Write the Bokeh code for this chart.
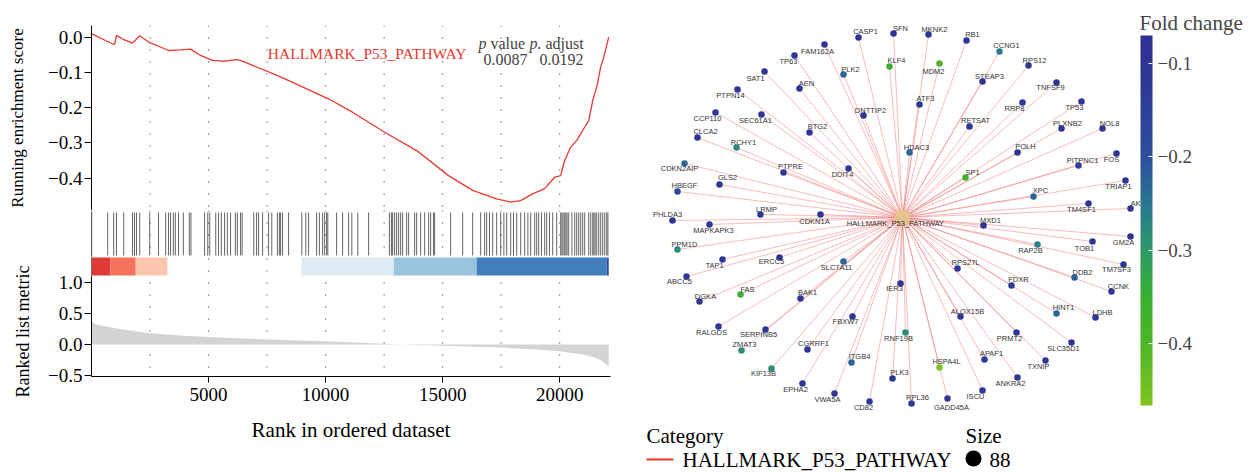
import numpy as np
from bokeh.plotting import figure
from bokeh.layouts import row, column
from bokeh.models import (Range1d, FixedTicker, CustomJSTickFormatter, LinearColorMapper,
                          ColorBar, ColumnDataSource, Span, Label, AllLabels, Title)
from bokeh.core.properties import value
from bokeh.embed import file_html
from bokeh.resources import INLINE

SERIF = "Liberation Serif"
SANS = "Liberation Sans"
RED = "#E8392F"

# ---------------- GSEA data ----------------
pathway = "HALLMARK_P53_PATHWAY"
p_value = "0.0087"
p_adjust = "0.0192"

es_rank = [0, 640, 984, 1070, 1410, 1750, 2060, 2440, 2950, 3290, 3800, 4230, 4660, 5170,
           5680, 6200, 6370, 6880, 8080, 9100, 10120, 11150, 12520, 13890, 15250, 16280,
           17300, 17900, 18330, 18840, 19360, 19790, 20040, 20210, 20470, 20730, 21070,
           21240, 21410, 21580, 21750, 21880, 22094]
es_score = [0.010, -0.011, -0.021, 0.005, -0.008, -0.017, 0.004, -0.014, -0.028, -0.038,
            -0.036, -0.034, -0.052, -0.066, -0.068, -0.064, -0.066, -0.080, -0.113, -0.144,
            -0.175, -0.213, -0.270, -0.322, -0.393, -0.435, -0.459, -0.468, -0.464, -0.445,
            -0.430, -0.397, -0.393, -0.350, -0.312, -0.293, -0.255, -0.237, -0.180, -0.142,
            -0.085, -0.057, 0.000]

hit_rank = [9, 692, 949, 1068, 1376, 1752, 1838, 1923, 2060, 2487, 2863, 3171, 3291, 3376,
            3496, 3581, 3718, 3923, 4179, 4248, 4829, 4966, 5051, 5308, 5427, 5547, 5684,
            5803, 5940, 6145, 6231, 6368, 6436, 6932, 7051, 7137, 7308, 7564, 7701, 7940,
            8026, 8077, 8162, 8419, 8983, 9154, 9274, 9615, 9735, 9872, 9957, 10043, 10094,
            10470, 10726, 10983, 11120, 11376, 11838, 12726, 12812, 12863, 12949, 13034,
            13120, 13205, 13291, 13462, 13547, 13803, 13889, 14060, 14231, 14402, 14487,
            14607, 14658, 15342, 15855, 16282, 16624, 16795, 16880, 17000, 17137, 17308,
            17479, 17615, 17735, 17906, 18026, 18162, 18333, 18504, 18641, 18761, 18932,
            19017, 19103, 19222, 19359, 19444, 19564, 19701, 19872, 20043, 20094, 20145,
            20214, 20265, 20316, 20384, 20521, 20641, 20726, 20812, 20897, 20983, 21068,
            21239, 21325, 21410, 21462, 21513, 21581, 21667, 21752, 21838, 21923, 22009,
            22060]

metric_rank = [0, 200, 1200, 2500, 3800, 5000, 7500, 10000, 12000, 12900, 13500, 15000,
               17500, 19000, 20000, 21000, 21500, 21800, 22094]
metric_value = [0.37, 0.32, 0.25, 0.18, 0.145, 0.12, 0.08, 0.05, 0.02, 0.003, -0.003,
                -0.02, -0.05, -0.08, -0.11, -0.16, -0.21, -0.26, -0.36]

band_start = [0, 812, 1889, 8966, 12915, 16453, 22009]
band_end = [812, 1889, 3239, 12915, 16453, 22009, 22094]
band_color = ["#DF3A36", "#F4735F", "#FCC6AF", "#DDEAF4", "#98C4DE", "#417EBA", "#2C4A9C"]

rank_ticks = [5000, 10000, 15000, 20000]
grid_ranks = [2500, 5000, 7500, 10000, 12500, 15000, 17500, 20000]
es_ticks = [0.0, -0.1, -0.2, -0.3, -0.4]
metric_ticks = [1.0, 0.5, 0.0, -0.5]

# ---------------- network data ----------------
genes = ["CASP1", "SFN", "MKNK2", "FAM162A", "TP63", "KLF4", "MDM2", "PLK2", "SAT1", "AEN",
         "PTPN14", "ATF3", "DNTTIP2", "CCP110", "SEC61A1", "BTG2", "CLCA2", "RCHY1", "HDAC3",
         "RB1", "CCNG1", "RPS12", "STEAP3", "TNFSF9", "RRP8", "TP53", "RETSAT", "PLXNB2",
         "NOL8", "POLH", "FOS", "PITPNC1", "SP1", "TRIAP1", "XPC", "TM4SF1", "AK", "MXD1",
         "GM2A", "TOB1", "RAP2B", "TM7SF3", "RPS27L", "DDB2", "FDXR", "CCNK", "HINT1", "LDHB",
         "ALOX15B", "PRMT2", "SLC35D1", "APAF1", "TXNIP", "ANKRA2", "ISCU", "GADD45A",
         "HSPA4L", "RNF19B", "CGRRF1", "ITGB4", "PLK3", "EPHA2", "VWA5A", "CD82", "RPL36",
         "RALGDS", "SERPINB5", "ZMAT3", "FBXW7", "KIF13B", "CDKN2AIP", "PTPRE", "DDIT4",
         "GLS2", "HBEGF", "LRMP", "CDKN1A", "PHLDA3", "MAPKAPK3", "PPM1D", "TAP1", "ERCC5",
         "SLC7A11", "ABCC5", "IER3", "FAS", "DGKA", "BAK1"]
# layout coordinates (hub at origin)
node_x = [-44, -9, 26, -78, -108, -13, 37, -59, -138, -103, -165, 17, -39, -187, -141, -93,
          -205, -166, 7, 64, 97, 126, 80, 154, 120, 179, 67, 159, 200, 115, 214, 176, 63, 223,
          131, 186, 228, 81, 228, 190, 135, 221, 55, 172, 109, 209, 154, 193, 58, 114, 169, 82,
          143, 115, 80, 45, 37, 3, -95, -51, -10, -100, -68, -33, 9, -184, -137, -161, -50,
          -131, -218, -119, -54, -183, -225, -142, -82, -230, -193, -225, -180, -123, -59,
          -216, -2, -162, -203, -102]
node_y = [180, 184, 183, 173, 162, 151, 154, 143, 146, 129, 128, 113, 102, 105, 103, 85, 80,
          70, 65, 177, 166, 152, 136, 135, 115, 116, 91, 89, 89, 65, 64, 52, 40, 37, 21, 14, 9,
          -8, -19, -24, -27, -47, -51, -60, -68, -74, -96, -100, -99, -115, -125, -142, -143,
          -160, -173, -181, -150, -115, -132, -145, -161, -166, -176, -184, -186, -109, -112,
          -133, -99, -151, 54, 45, 49, 33, 26, 3, 3, -3, -7, -32, -42, -40, -44, -59, -66, -77,
          -84, -81]
label_dx = [7, 7, 6, -7, -6, 7, -6, 7, -9, 7, -7, 6, 7, -8, -6, 8, 8, 7, 7, 6, 7, 6, 7, -6,
            -8, -7, 6, 6, 7, 8, -5, 4, 7, -7, 7, -7, 5, 7, -7, -8, -7, -7, 8, 8, 7, 7, 7, 7, 7,
            -7, -8, 7, -7, -7, -7, 4, 7, -7, 6, 8, 7, -7, -7, -6, 6, -7, -7, 3, -7, -8, -5, 7,
            -6, 8, 7, 6, -6, -5, 4, 7, -8, -8, -7, -7, -6, 7, 6, 7]
label_dy = [6, 5, 5, -7, -6, 6, -8, 5, -7, 5, -6, 6, 5, -6, -6, 6, 6, 5, 5, 6, 6, 5, 5, -5,
            -6, -6, 6, 5, 5, 6, -6, 5, 5, -6, 6, -6, 5, 5, -6, -7, -6, -5, 6, 5, 6, 5, 6, 5, 5,
            -6, -6, 6, -6, -6, -6, -9, 6, -6, 6, 6, 6, -6, -6, -6, 6, -6, -5, 6, -5, -5, -5, 6,
            -6, 7, 6, 5, -7, 6, -6, 5, -6, -4, -6, -5, -5, 5, 5, 6]
fold_change = [-0.10, -0.10, -0.11, -0.10, -0.10, -0.35, -0.40, -0.23, -0.10, -0.11, -0.10,
               -0.11, -0.10, -0.10, -0.10, -0.11, -0.10, -0.28, -0.23, -0.10, -0.26, -0.10,
               -0.11, -0.10, -0.11, -0.10, -0.11, -0.10, -0.10, -0.11, -0.10, -0.14, -0.38,
               -0.10, -0.23, -0.11, -0.10, -0.11, -0.10, -0.11, -0.26, -0.10, -0.11, -0.22,
               -0.11, -0.11, -0.23, -0.11, -0.11, -0.11, -0.11, -0.12, -0.11, -0.11, -0.11,
               -0.11, -0.46, -0.28, -0.11, -0.23, -0.11, -0.11, -0.11, -0.11, -0.11, -0.11,
               -0.11, -0.28, -0.11, -0.28, -0.23, -0.11, -0.11, -0.11, -0.17, -0.11, -0.11,
               -0.11, -0.11, -0.28, -0.11, -0.11, -0.23, -0.11, -0.11, -0.35, -0.11, -0.11]
hub_x, hub_y = 0, 0
gene_set_size = len(genes)

fc_low, fc_high = -0.4665, -0.070
fc_ticks = [-0.1, -0.2, -0.3, -0.4]

# ---------------- palette (style) ----------------
anc_t = [0.0, 0.17, 0.29, 0.41, 0.54, 0.67, 0.85, 1.0]
anc_c = ["#80C41C", "#4DB627", "#3AAF33", "#2E9C64", "#2A7890", "#2D4E9D", "#2E3A96", "#2E3192"]
rgb = np.array([[int(c[i:i + 2], 16) for i in (1, 3, 5)] for c in anc_c], dtype=float)
tt = np.linspace(0, 1, 256)
palette = ["#%02x%02x%02x" % tuple(int(round(np.interp(t, anc_t, rgb[:, k]))) for k in range(3))
           for t in tt]

minus_fmt = CustomJSTickFormatter(
    code="return (tick < 0 ? '\u2212' : '') + Math.abs(tick).toFixed(1);")

xr = Range1d(0, 22170)


def style_axis(ax, size="19px"):
    ax.axis_line_color = "black"
    ax.axis_line_width = 1
    ax.major_tick_line_color = "black"
    ax.major_tick_in = 0
    ax.major_tick_out = 7
    ax.minor_tick_line_color = None
    ax.major_label_text_font = SERIF
    ax.major_label_text_font_size = size
    ax.major_label_text_color = "black"
    ax.axis_label_text_font = SERIF
    ax.axis_label_text_font_style = "normal"
    ax.axis_label_text_color = "black"


def gsea_fig(fh, yr, top=0, bottom=0, xaxis=False):
    f = figure(frame_width=519, frame_height=fh, x_range=xr, y_range=yr,
               output_backend="svg", toolbar_location=None,
               min_border_left=91, min_border_right=20, min_border_top=top,
               min_border_bottom=bottom, x_axis_location="below" if xaxis else None)
    f.grid.visible = False
    f.outline_line_color = None
    f.background_fill_color = None
    f.border_fill_color = None
    for r in grid_ranks:
        f.add_layout(Span(location=r, dimension="height", line_color="black",
                          line_dash="1 11", line_width=1, line_alpha=0.85, level="underlay"))
    style_axis(f.yaxis[0])
    f.yaxis[0].major_label_standoff = 2
    f.yaxis[0].formatter = minus_fmt
    return f


# ---- running score panel
p1 = gsea_fig(185, Range1d(-0.492, 0.033), top=25)
p1.line(es_rank, es_score, line_color=RED, line_width=1.3)
p1.yaxis[0].ticker = FixedTicker(ticks=es_ticks)
p1.yaxis[0].axis_label = "Running enrichment score"
p1.yaxis[0].axis_label_text_font_size = "17px"
p1.yaxis[0].axis_label_standoff = 18

lab_kw = dict(x_units="screen", y_units="screen", text_font=SERIF, text_baseline="middle")
p1.add_layout(Label(x=375, y=157, text=pathway, text_align="right", text_color=RED,
                    text_font_size="15.5px", **lab_kw))
p1.add_layout(Label(x=387, y=167, text="p", text_font_style="italic", text_font_size="16px", **lab_kw))
p1.add_layout(Label(x=399, y=167, text="value", text_font_size="16px", **lab_kw))
p1.add_layout(Label(x=438, y=167, text="p.", text_font_style="italic", text_font_size="16px", **lab_kw))
p1.add_layout(Label(x=454, y=167, text="adjust", text_font_size="16px", **lab_kw))
p1.add_layout(Label(x=414, y=151, text=p_value, text_align="center", text_font_size="16px", **lab_kw))
p1.add_layout(Label(x=470, y=151, text=p_adjust, text_align="center", text_font_size="16px", **lab_kw))

# ---- hits + colour band + ranked list metric panel (one frame, two y ranges)
p2 = gsea_fig(166, Range1d(-0.514, 2.151), bottom=96, xaxis=True)
p2.extra_y_ranges = {"track": Range1d(0, 1)}
p2.quad(left=band_start, right=band_end, bottom=0.608, top=0.717, fill_color=band_color,
        line_color=None, y_range_name="track")
p2.segment(x0=hit_rank, y0=0.729, x1=hit_rank, y1=0.988, line_color="#1a1a1a",
           line_width=0.9, line_alpha=0.75, y_range_name="track")
zeros = [0.0] * len(metric_rank)
p2.varea(x=metric_rank, y1=zeros, y2=metric_value, fill_color="#D5D3D3")
p2.add_layout(Span(location=0, dimension="height", line_color="black", line_width=1))
ya = p2.yaxis[0]
ya.ticker = FixedTicker(ticks=metric_ticks)
ya.bounds = (-0.514, 1.09)
p2.add_layout(Title(text="Ranked list metric", align="left", offset=-21,
                    vertical_align="top", standoff=21, text_font=SERIF,
                    text_font_size="18px", text_font_style="normal", text_color="black"),
              "left")
xa = p2.xaxis[0]
style_axis(xa)
xa.ticker = FixedTicker(ticks=rank_ticks)
xa.major_tick_out = 6
xa.major_label_standoff = 5
xa.axis_label = "Rank in ordered dataset"
xa.axis_label_text_font_size = "21px"
xa.axis_label_standoff = 14

# ---------------- network panel ----------------
p4 = figure(frame_width=624, frame_height=472, x_range=Range1d(-272, 352),
            y_range=Range1d(-255, 217), output_backend="svg", toolbar_location=None,
            min_border=0, x_axis_location=None, y_axis_location=None)
p4.grid.visible = False
p4.outline_line_color = None

src = ColumnDataSource(dict(
    gene=genes, x=node_x, y=node_y, fc=fold_change,
    lx=[a + b for a, b in zip(node_x, label_dx)],
    ly=[a + b for a, b in zip(node_y, label_dy)],
))
mapper = LinearColorMapper(palette=palette, low=fc_low, high=fc_high)

p4.segment(x0=hub_x, y0=hub_y, x1="x", y1="y", source=src, line_color="#EE6464",
           line_alpha=0.55, line_width=0.8)
p4.scatter("x", "y", source=src, size=6.5, fill_color={"field": "fc", "transform": mapper},
           line_color=None)
p4.scatter([hub_x], [hub_y], size=16, fill_color="#E6C38E", line_color=None)
p4.text("lx", "ly", text="gene", source=src, text_font=value(SANS), text_font_size="7.5px",
        text_color="#333333", text_align="center", text_baseline="middle")
p4.text([hub_x - 7], [hub_y - 6], text=[pathway], text_font=value(SANS),
        text_font_size="7.5px", text_color="#333333", text_align="center",
        text_baseline="middle")

cb = ColorBar(color_mapper=mapper, location=(510, 67), width=12, height=370, padding=0,
              ticker=FixedTicker(ticks=fc_ticks), formatter=minus_fmt,
              major_label_policy=AllLabels(),
              major_label_text_font=SERIF, major_label_text_font_size="19px",
              label_standoff=5, background_fill_alpha=0, border_line_color=None,
              bar_line_color=None, major_tick_line_color="white", major_tick_in=4,
              major_tick_out=0, minor_tick_line_color=None)
p4.add_layout(cb)
p4.add_layout(Label(x=509, y=450, text="Fold change", text_align="left",
                    text_font_size="21px", **lab_kw))

# legend (category + size)
leg_txt = dict(text_font=value(SERIF), text_font_size="21px", text_color="black",
               text_align="left", text_baseline="middle")
p4.text([-256], [-218], text=["Category"], **leg_txt)
p4.segment(x0=[-256], y0=[-242], x1=[-229], y1=[-242], line_color=RED, line_width=2)
p4.text([-220], [-242], text=[pathway], **leg_txt)
p4.text([63], [-218], text=["Size"], **leg_txt)
p4.scatter([71], [-241], size=16, fill_color="black", line_color=None)
p4.text([87], [-242], text=[str(gene_set_size)], **leg_txt)

layout = row(column(p1, p2), p4)
open("out.html", "w").write(file_html(layout, INLINE))
